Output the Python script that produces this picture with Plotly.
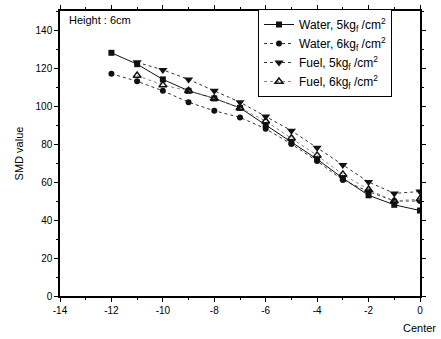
import plotly.graph_objects as go

x_w = [-12, -11, -10, -9, -8, -7, -6, -5, -4, -3, -2, -1, 0]
x_f = [-11, -10, -9, -8, -7, -6, -5, -4, -3, -2, -1, 0]
water5 = [128, 122, 114, 108, 104, 99, 90, 81, 72, 62, 53, 48, 45]
water6 = [117, 113, 108, 102, 97.5, 94, 88, 80, 71, 61, 55, 50, 50]
fuel5 = [123, 119, 114, 108, 102, 94.5, 87, 78, 69, 60, 54, 55]
fuel6 = [116, 111, 108, 104, 99, 92, 83, 74, 64, 56, 50, 51]

x_ticks = [-14, -12, -10, -8, -6, -4, -2, 0]
x_ticktext = ["-14", "-12", "-10", "-8", "-6", "-4", "-2", "0"]
y_ticks = [0, 20, 40, 60, 80, 100, 120, 140]

names = ["Water, 5kg<sub>f</sub> /cm<sup>2</sup>",
         "Water, 6kg<sub>f</sub> /cm<sup>2</sup>",
         "Fuel, 5kg<sub>f</sub> /cm<sup>2</sup>",
         "Fuel, 6kg<sub>f</sub> /cm<sup>2</sup>"]

fig = go.Figure()
fig.add_trace(go.Scatter(x=x_w, y=water5, name=names[0], mode="lines+markers",
                         line=dict(color="#111", width=1),
                         marker=dict(symbol="square", size=6, color="#111")))
fig.add_trace(go.Scatter(x=x_w, y=water6, name=names[1], mode="lines+markers",
                         line=dict(color="#333", width=1, dash="dot"),
                         marker=dict(symbol="circle", size=6, color="#111")))
fig.add_trace(go.Scatter(x=x_f, y=fuel5, name=names[2], mode="lines+markers",
                         line=dict(color="#333", width=1, dash="dot"),
                         marker=dict(symbol="triangle-down", size=8, color="#111")))
fig.add_trace(go.Scatter(x=x_f, y=fuel6, name=names[3], mode="lines+markers",
                         line=dict(color="#888", width=1, dash="dot"),
                         marker=dict(symbol="triangle-up-open", size=7, color="#111",
                                     line=dict(width=1.5))))

axis_common = dict(showline=True, linecolor="black", linewidth=1.5, mirror="allticks",
                   ticks="outside", ticklen=4, tickcolor="black", showgrid=False,
                   zeroline=False, tickfont=dict(size=10, color="black"))

fig.update_layout(
    width=441, height=339,
    margin=dict(l=60, r=21, t=5, b=43),
    paper_bgcolor="white", plot_bgcolor="white",
    font=dict(family="Liberation Sans, Arial", color="black", size=11),
    xaxis=dict(range=[-14, 0], tickvals=x_ticks, ticktext=x_ticktext,
               minor=dict(dtick=1, ticks="outside", ticklen=2, tickcolor="black"),
               **axis_common),
    yaxis=dict(range=[0, 150], tickvals=y_ticks,
               minor=dict(dtick=10, ticks="outside", ticklen=2, tickcolor="black"),
               title=dict(text="SMD value", font=dict(size=11), standoff=10),
               **axis_common),
    legend=dict(x=0.55, y=1.007, xanchor="left", yanchor="top",
                bordercolor="black", borderwidth=1, bgcolor="white",
                font=dict(size=12), tracegroupgap=0, itemwidth=30),
    showlegend=True,
)
fig.add_annotation(text="Height : 6cm", x=0.02, y=0.995, xref="paper", yref="paper",
                   xanchor="left", yanchor="top", showarrow=False, font=dict(size=11))
fig.add_annotation(text="Center", x=1.05, y=-0.085, xref="paper", yref="paper",
                   xanchor="right", yanchor="top", showarrow=False, font=dict(size=11))

fig.write_html("out.html")
